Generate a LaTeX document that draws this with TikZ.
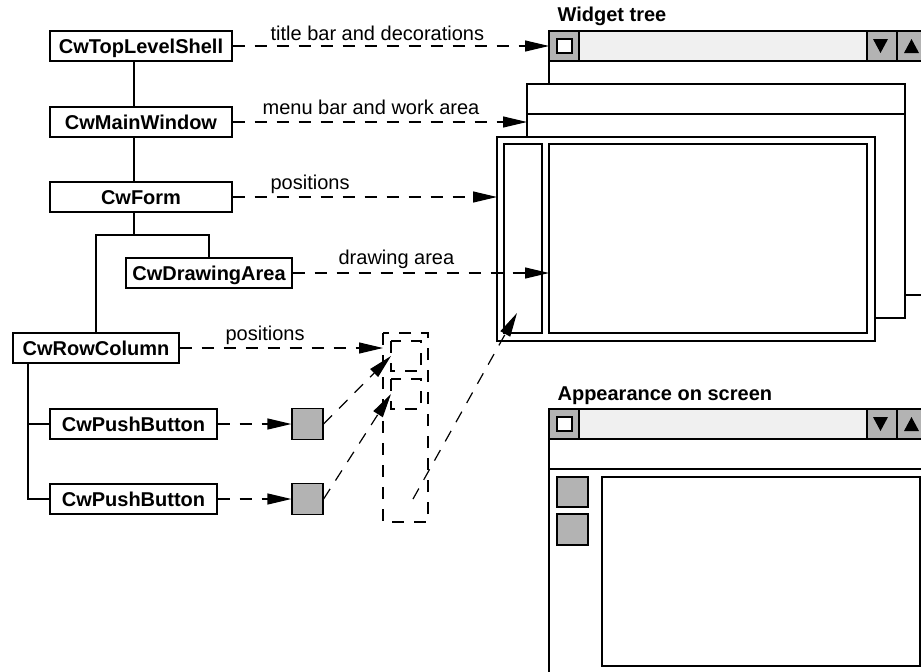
\documentclass[tikz,border=0pt]{standalone}
\usepackage{fontspec}
\setmainfont{Liberation Sans}
\usetikzlibrary{arrows.meta,calc}
\definecolor{btngray}{RGB}{179,179,179}
\definecolor{barfill}{RGB}{240,240,240}
\begin{document}
\begin{tikzpicture}[x=1pt,y=-1pt,line width=1.2pt,
  every node/.style={font=\fontsize{20}{24}\selectfont},
  wbox/.style={draw,fill=white,inner sep=0pt,minimum height=30pt,
    font=\fontsize{20}{24}\selectfont\bfseries,text height=14.3pt,text depth=0pt},
  lbl/.style={anchor=base west,inner sep=0pt},
  ttl/.style={anchor=base west,inner sep=0pt,font=\fontsize{20}{24}\selectfont\bfseries},
  dsh/.style={dash pattern=on 12pt off 10pt},
  link/.style={dsh,-{Triangle[length=24pt,width=11pt]}},
  gsq/.style={draw,fill=btngray,inner sep=0pt,minimum size=31pt}]
\useasboundingbox (0,0) rectangle (921,672);
\clip (0,0) rectangle (921,672);
% ---------- widget tree window (right) ----------
\draw[fill=white] (549,31) rectangle (960,295);
\draw[fill=barfill] (549,31) rectangle (960,61);
\draw[fill=btngray] (549,31) rectangle (579,61);
\draw[fill=white] (557,39) rectangle (572,53);
\draw[fill=btngray] (867,31) rectangle (897,61);
\draw[fill=btngray] (897,31) rectangle (960,61);
\fill (873,39) -- (888,39) -- (880.5,53) -- cycle;
\fill (904,53) -- (919,53) -- (911.5,39) -- cycle;
\draw[fill=white] (527,84) rectangle (905,318);
\draw (527,114) -- (905,114);
\draw[fill=white] (497,137) rectangle (875,341);
\draw (504,144) rectangle (542,333);
\draw (549,144) rectangle (867,333);
\node[ttl] (wt) at (557,21) {Widget tree};
% ---------- appearance window ----------
\node[ttl] (ap) at (557,400) {Appearance on screen};
\draw[fill=white] (549,409) rectangle (960,700);
\draw[fill=barfill] (549,409) rectangle (960,439);
\draw[fill=btngray] (549,409) rectangle (579,439);
\draw[fill=white] (557,417) rectangle (572,431);
\draw[fill=btngray] (867,409) rectangle (897,439);
\draw[fill=btngray] (897,409) rectangle (960,439);
\fill (873,417) -- (888,417) -- (880.5,431) -- cycle;
\fill (904,431) -- (919,431) -- (911.5,417) -- cycle;
\draw (549,469) -- (960,469);
\draw[fill=btngray] (557,477) rectangle (588,507);
\draw[fill=btngray] (557,514) rectangle (588,545);
\draw (602,477) rectangle (920,666);
% ---------- tree nodes ----------
\node[wbox,minimum width=182pt] (tls) at (141,46) {CwTopLevelShell};
\node[wbox,minimum width=182pt] (mw) at (141,122) {CwMainWindow};
\node[wbox,minimum width=182pt] (form) at (141,197) {CwForm};
\node[wbox,minimum width=166pt] (da) at (209,273) {CwDrawingArea};
\node[wbox,minimum width=166pt] (rc) at (96,348) {CwRowColumn};
\node[wbox,minimum width=167pt] (pb1) at (133.5,424) {CwPushButton};
\node[wbox,minimum width=167pt] (pb2) at (133.5,499) {CwPushButton};
\node[gsq] (sq1) at (307.5,424) {};
\node[gsq] (sq2) at (307.5,499) {};
% tree lines
\coordinate (t1) at (134,0);
\coordinate (br) at (134,235);
\coordinate (t2) at (28,0);
\draw (tls.south -| t1) -- (mw.north -| t1);
\draw (mw.south -| t1) -- (form.north -| t1);
\draw (form.south -| t1) -- (br);
\draw (rc.north) -- (rc.north |- br) -- (da.north |- br) -- (da.north);
\draw (rc.south -| t2) |- (pb2.west);
\draw (t2 |- pb1.west) -- (pb1.west);
% ---------- dashed row-column outline ----------
\draw[dsh] (383,333) rectangle (428,522);
\draw[dsh] (391,341) rectangle (421,371);
\draw[dsh] (391,379) rectangle (421,409);
% targets
\coordinate (titleL) at (549,46);
\coordinate (menuL) at (527,122);
\coordinate (formL) at (497,197);
\coordinate (drawL) at (549,273);
\coordinate (rcL) at (383,348);
\coordinate (in1) at (391,356);
\coordinate (in2) at (391,394);
\coordinate (rcA) at (413,499);
\coordinate (colB) at (517,313);
% ---------- dashed links ----------
\draw[link] (tls.east) -- (titleL);
\draw[link] (mw.east) -- (menuL);
\draw[link] (form.east) -- (formL);
\draw[link] (da.east) -- (drawL);
\draw[link] (rc.east) -- (rcL);
\draw[link] (pb1.east) -- (sq1.west);
\draw[link] (pb2.east) -- (sq2.west);
\draw[link] (sq1.east) -- (in1);
\draw[link] (sq2.east) -- (in2);
\draw[link] (rcA) -- (colB);
% labels
\node[lbl] (l1) at (270,40) {title bar and decorations};
\node[lbl] (l2) at (262,114) {menu bar and work area};
\node[lbl] (l3) at (270,189) {positions};
\node[lbl] (l4) at (338,264) {drawing area};
\node[lbl] (l5) at (225,340) {positions};
\end{tikzpicture}
\end{document}
